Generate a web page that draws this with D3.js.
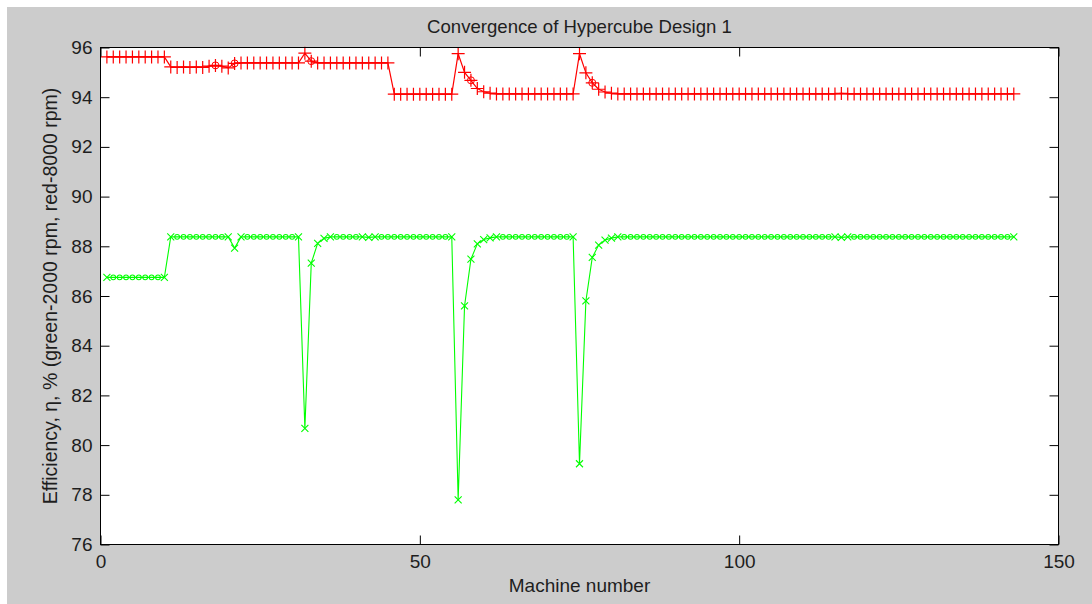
<!DOCTYPE html>
<html><head><meta charset="utf-8">
<script src="https://cdn.jsdelivr.net/npm/d3@7"></script>
<style>
html,body{margin:0;padding:0;background:#fff;}
svg{display:block;}
text{font-family:Arial,"Liberation Sans",sans-serif;}
</style></head>
<body>
<svg id="chart" width="1092" height="604"></svg>
<script>
// ---- data ----
const titleText = "Convergence of Hypercube Design 1";
const xLabelText = "Machine number";
const yLabelText = "Efficiency, \u03b7, % (green-2000 rpm, red-8000 rpm)";
const xTicks = [0, 50, 100, 150];
const yTicks = [76, 78, 80, 82, 84, 86, 88, 90, 92, 94, 96];

// green: 2000 rpm, machines 1..143
const green2000 = [
  86.75,86.75,86.75,86.75,86.75,86.75,86.75,86.75,86.75,86.75,
  88.38,88.38,88.38,88.38,88.38,88.38,88.38,88.38,88.38,88.38,
  87.93,
  88.38,88.38,88.38,88.38,88.38,88.38,88.38,88.38,88.38,88.38,
  80.67,87.32,88.12,88.32,
  88.38,88.38,88.38,88.38,88.38,88.38,88.36,88.38,88.38,88.38,
  88.38,88.38,88.38,88.38,88.38,88.38,88.38,88.38,88.38,88.38,
  77.80,85.60,87.48,88.10,88.27,88.34,
  88.38,88.38,88.38,88.38,88.38,88.38,88.38,88.38,88.38,88.38,88.38,88.38,88.38,
  79.25,85.80,87.55,88.05,88.25,88.33,
  88.38,88.38,88.38,88.38,88.38,88.38,88.38,88.38,88.38,88.38,
  88.38,88.38,88.38,88.38,88.38,88.38,88.38,88.38,88.38,88.38,
  88.38,88.38,88.38,88.38,88.38,88.38,88.38,88.38,88.38,88.38,
  88.38,88.38,88.38,88.38,88.38,88.36,88.38,88.38,88.38,88.38,
  88.38,88.38,88.38,88.38,88.38,88.38,88.38,88.38,88.38,88.38,
  88.38,88.38,88.38,88.38,88.38,88.38,88.38,88.38,88.38,88.38,
  88.38,88.38,88.38
];
// red: 8000 rpm, machines 1..143
const red8000 = [
  95.62,95.62,95.62,95.62,95.62,95.62,95.62,95.62,95.62,95.62,
  95.22,95.20,95.22,95.20,95.22,95.20,95.25,95.28,95.25,95.18,
  95.36,95.38,95.38,95.38,95.38,95.38,95.38,95.38,95.38,95.38,95.38,
  95.77,95.45,
  95.38,95.38,95.38,95.38,95.38,95.38,95.38,95.38,95.38,95.38,95.38,95.38,
  94.12,94.12,94.12,94.12,94.12,94.12,94.12,94.12,94.12,94.12,
  95.75,95.00,94.68,94.35,94.22,94.16,
  94.13,94.13,94.13,94.13,94.13,94.13,94.13,94.13,94.13,94.13,94.13,94.13,94.13,
  95.75,94.98,94.58,94.32,94.21,94.16,
  94.13,94.13,94.13,94.13,94.13,94.13,94.13,94.13,94.13,94.13,
  94.13,94.13,94.13,94.13,94.13,94.13,94.13,94.13,94.13,94.13,
  94.13,94.13,94.13,94.13,94.13,94.13,94.13,94.13,94.13,94.13,
  94.13,94.13,94.13,94.13,94.13,94.15,94.13,94.13,94.13,94.13,
  94.13,94.13,94.13,94.13,94.13,94.13,94.13,94.13,94.13,94.13,
  94.13,94.13,94.13,94.13,94.13,94.13,94.13,94.13,94.13,94.13,
  94.13,94.13,94.13
];
// machines where the red series also shows a circle marker
const redCircleMachines = [18, 21, 33, 58, 77];

// ---- drawing ----
const W = 1092, H = 604;
const svg = d3.select("#chart");
const pLeft = 100.5, pRight = 1058.5, pTop = 47.5, pBottom = 544.5;

svg.append("rect").attr("x", 7).attr("y", 7).attr("width", W - 7).attr("height", H - 7).attr("fill", "#cccccc");
svg.append("rect").attr("x", pLeft).attr("y", pTop).attr("width", pRight - pLeft).attr("height", pBottom - pTop).attr("fill", "#fff");

const x = d3.scaleLinear().domain([0, 150]).range([pLeft, pRight]);
const y = d3.scaleLinear().domain([76, 96]).range([pBottom, pTop]);

const gData = green2000.map((v, i) => ({m: i + 1, v}));
const rData = red8000.map((v, i) => ({m: i + 1, v}));

const line = d3.line().x(d => x(d.m)).y(d => y(d.v));
const plot = svg.append("g");

// green line + markers
plot.append("path").datum(gData).attr("d", line).attr("fill", "none").attr("stroke", "#00ff00").attr("stroke-width", 1.1);
const isFlat = (arr, i) => i > 0 && i < arr.length - 1 &&
  Math.abs(arr[i] - arr[i - 1]) < 0.015 && Math.abs(arr[i] - arr[i + 1]) < 0.015;
const gFlat = gData.filter((d, i) => isFlat(green2000, i));
const gX = gData.filter((d, i) => !isFlat(green2000, i));
plot.append("g").selectAll("circle").data(gFlat).join("circle")
  .attr("cx", d => x(d.m)).attr("cy", d => y(d.v)).attr("r", 2.4)
  .attr("fill", "none").attr("stroke", "#00ff00").attr("stroke-width", 1.1);
const xs = 3.5;
plot.append("g").selectAll("path").data(gX).join("path")
  .attr("d", d => {const cx = x(d.m), cy = y(d.v);
    return `M${cx - xs},${cy - xs}L${cx + xs},${cy + xs}M${cx - xs},${cy + xs}L${cx + xs},${cy - xs}`;})
  .attr("stroke", "#00ff00").attr("stroke-width", 1.1).attr("fill", "none");

// red line + markers
plot.append("path").datum(rData).attr("d", line).attr("fill", "none").attr("stroke", "#ff0000").attr("stroke-width", 1.2);
const ps = 6.5;
plot.append("g").selectAll("path").data(rData).join("path")
  .attr("d", d => {const cx = x(d.m), cy = y(d.v);
    return `M${cx - ps},${cy}L${cx + ps},${cy}M${cx},${cy - ps}L${cx},${cy + ps}`;})
  .attr("stroke", "#ff0000").attr("stroke-width", 1.2).attr("fill", "none");
plot.append("g").selectAll("circle").data(rData.filter(d => redCircleMachines.includes(d.m))).join("circle")
  .attr("cx", d => x(d.m)).attr("cy", d => y(d.v)).attr("r", 3.5)
  .attr("fill", "none").attr("stroke", "#ff0000").attr("stroke-width", 1);

// axes
const fs = 19;
const styleAxis = g => {
  g.select(".domain").remove();
  g.selectAll("line").attr("stroke", "#000");
  g.selectAll("text").attr("font-size", fs).attr("fill", "#1e1e1e").attr("font-family", "Arial, 'Liberation Sans', sans-serif");
};
svg.append("g").attr("transform", `translate(0,${pBottom})`)
  .call(d3.axisBottom(x).tickValues(xTicks).tickFormat(d3.format("d")).tickSize(-9).tickPadding(10)).call(styleAxis);
svg.append("g").attr("transform", `translate(0,${pTop})`)
  .call(d3.axisTop(x).tickValues(xTicks).tickFormat("").tickSize(-9)).call(styleAxis);
svg.append("g").attr("transform", `translate(${pLeft},0)`)
  .call(d3.axisLeft(y).tickValues(yTicks).tickFormat(d3.format("d")).tickSize(-9).tickPadding(8)).call(styleAxis);
svg.append("g").attr("transform", `translate(${pRight},0)`)
  .call(d3.axisRight(y).tickValues(yTicks).tickFormat("").tickSize(-9)).call(styleAxis);

svg.append("rect").attr("x", pLeft).attr("y", pTop).attr("width", pRight - pLeft).attr("height", pBottom - pTop)
  .attr("fill", "none").attr("stroke", "#000").attr("stroke-width", 1);

// labels
svg.append("text").attr("x", (pLeft + pRight) / 2).attr("y", 33).attr("text-anchor", "middle")
  .attr("font-size", 18.6).attr("fill", "#1e1e1e").text(titleText);
svg.append("text").attr("x", (pLeft + pRight) / 2).attr("y", 592).attr("text-anchor", "middle")
  .attr("font-size", fs).attr("fill", "#1e1e1e").text(xLabelText);
svg.append("text").attr("transform", `translate(57,${(pTop + pBottom) / 2}) rotate(-90)`).attr("text-anchor", "middle")
  .attr("font-size", 19.5).attr("fill", "#1e1e1e").text(yLabelText);
</script>
</body></html>
